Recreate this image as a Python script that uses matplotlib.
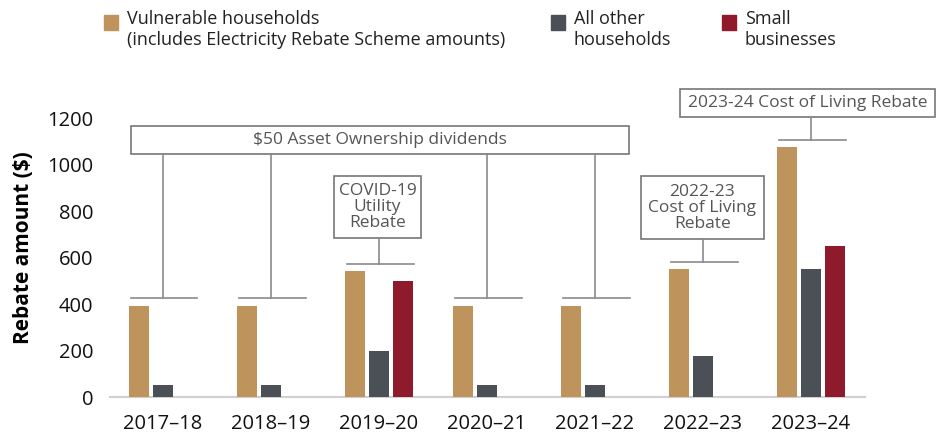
import numpy as np
import matplotlib.pyplot as plt
from matplotlib.patches import Rectangle

years = ['2017–18', '2018–19', '2019–20', '2020–21', '2021–22', '2022–23', '2023–24']
vulnerable = [393, 393, 543, 393, 393, 550, 1075]
other_hh = [50, 50, 200, 50, 50, 175, 550]
small_biz = [0, 0, 500, 0, 0, 0, 650]

series_names = ['Vulnerable households\n(includes Electricity Rebate Scheme amounts)',
                'All other\nhouseholds', 'Small\nbusinesses']
colors = ['#BE945C', '#4B4F56', '#8F1A2B']

plt.rcParams['font.family'] = ['Open Sans', 'DejaVu Sans']

fig = plt.figure(figsize=(9.37, 4.36), dpi=100)
ax = fig.add_axes([110/937, 39/436, 755/937, 279/436])

x = np.arange(len(years))
step = 0.222
w = 0.185
for i, vals in enumerate([vulnerable, other_hh, small_biz]):
    v = np.array(vals, dtype=float)
    m = v > 0
    ax.bar(x[m] + (i - 1)*step, v[m], width=w, color=colors[i], zorder=3)

ax.set_xlim(-0.49, 6.5)
ax.set_ylim(0, 1200)
ax.set_yticks(range(0, 1201, 200))
ax.set_xticks(x)
ax.set_xticklabels(years)
ax.tick_params(axis='both', length=0, labelsize=14.5, labelcolor='#111111')
ax.tick_params(axis='y', pad=12)
ax.tick_params(axis='x', pad=12)
for s in ['top', 'right', 'left']:
    ax.spines[s].set_visible(False)
ax.spines['bottom'].set_color('#d0d0d0')
ax.spines['bottom'].set_linewidth(1.5)
ax.set_ylabel('Rebate amount ($)', fontsize=15, fontweight='bold')
ax.yaxis.set_label_coords(-0.1, 0.535)

lc = '#8a8a8a'
ec = '#777777'
tc = '#555555'

def box(x0, x1, y0, y1, text):
    ax.add_patch(Rectangle((x0, y0), x1 - x0, y1 - y0, fill=False, edgecolor=ec,
                           lw=1.2, clip_on=False, zorder=4))
    ax.text((x0 + x1)/2, (y0 + y1)/2, text, ha='center', va='center', fontsize=12.5,
            color=tc, linespacing=1.0, clip_on=False)

def bracket(g, ycap, ytop):
    ax.plot([g - 0.3, g + 0.32], [ycap, ycap], color=lc, lw=1.2, clip_on=False, zorder=4)
    ax.plot([g, g], [ycap, ytop], color=lc, lw=1.2, clip_on=False, zorder=4)

# $50 dividends
box(-0.296, 4.315, 1045, 1166, '$50 Asset Ownership dividends')
for g in [0, 1, 3, 4]:
    bracket(g, 426, 1045)

box(1.583, 2.389, 684, 950, 'COVID-19\nUtility\nRebate')
bracket(2, 572, 684)

box(4.426, 5.565, 680, 950, '2022-23\nCost of Living\nRebate')
bracket(5, 581, 680)

box(4.787, 7.15, 1204, 1325, '2023-24 Cost of Living Rebate')
bracket(6, 1105, 1204)

# legend
leg_x = [104, 551, 722]
for i in range(3):
    fig.patches.append(Rectangle((leg_x[i]/937, (436-30)/436), 14/937, 15/436,
                                 transform=fig.transFigure, color=colors[i], figure=fig))
    fig.text((leg_x[i] + 23)/937, (436-10)/436, series_names[i], ha='left', va='top',
             fontsize=13, color='#222222', linespacing=1.2)

fig.savefig('out.png', dpi=100)
